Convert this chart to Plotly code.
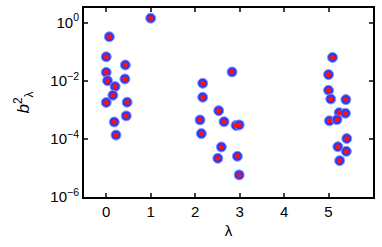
import plotly.graph_objects as go

lam = [1.0, 0.07, 0.0, 0.43, 0.0, 0.03, 0.42, 0.20, 0.15, 0.0, 0.47, 0.45, 0.18, 0.22,
       2.83, 2.17, 2.17, 2.53, 2.11, 2.65, 2.92, 2.99, 2.14, 2.59, 2.51, 2.95, 2.99,
       5.09, 5.0, 5.0, 5.05, 5.39, 5.24, 5.38, 5.02, 5.19, 5.41, 5.21, 5.40, 5.25]
logb = [0.15, -0.49, -1.18, -1.46, -1.71, -2.0, -1.94, -2.2, -2.5, -2.75, -2.74, -3.21, -3.42, -3.87,
        -1.70, -2.09, -2.57, -3.03, -3.35, -3.41, -3.54, -3.52, -3.82, -4.28, -4.67, -4.60, -5.24,
        -1.20, -1.79, -2.33, -2.63, -2.65, -3.10, -3.12, -3.38, -3.34, -3.99, -4.27, -4.43, -4.75]
b2 = [10 ** v for v in logb]

x_ticks = [0, 1, 2, 3, 4, 5]
y_ticks = [1, 1e-2, 1e-4, 1e-6]
y_ticklabels = ["10<sup>0</sup>", "10<sup>−2</sup>", "10<sup>−4</sup>", "10<sup>−6</sup>"]

fig = go.Figure()
fig.add_trace(go.Scatter(x=lam, y=b2, mode="markers",
                         marker=dict(symbol="circle", size=10, color="#2a3cf5",
                                     line=dict(color="#8a96ff", width=1)),
                         showlegend=False, hoverinfo="skip"))
fig.add_trace(go.Scatter(x=lam, y=b2, mode="markers",
                         marker=dict(symbol="circle", size=5, color="#ff1010",
                                     line=dict(width=0)),
                         showlegend=False))

font = dict(family="Liberation Sans, Arial, sans-serif", size=15, color="black")
fig.update_layout(
    width=382, height=247,
    margin=dict(l=84, r=9, t=8, b=50),
    paper_bgcolor="white", plot_bgcolor="white",
    font=font,
    xaxis=dict(range=[-0.5, 6], tickvals=x_ticks, ticks="inside", ticklen=4,
               tickwidth=2, showline=True, linewidth=2, linecolor="black",
               mirror="ticks", showgrid=False, zeroline=False, automargin=False,
               title=dict(text="λ", standoff=6, font=font)),
    yaxis=dict(type="log", range=[-6, 0.5], tickvals=y_ticks, ticktext=y_ticklabels,
               ticks="inside", ticklen=4, tickwidth=2, showline=True, linewidth=2,
               linecolor="black", mirror="ticks", showgrid=False, zeroline=False,
               automargin=False,
               title=dict(text="<i>b</i><sup>2</sup><sub>λ</sub>", standoff=16,
                          font=dict(family="Liberation Sans, Arial, sans-serif", size=17,
                                    color="black"))),
)
fig.write_html("out.html", config={"displayModeBar": False},
               post_script="document.body.style.margin='0';document.body.style.overflow='hidden';")
